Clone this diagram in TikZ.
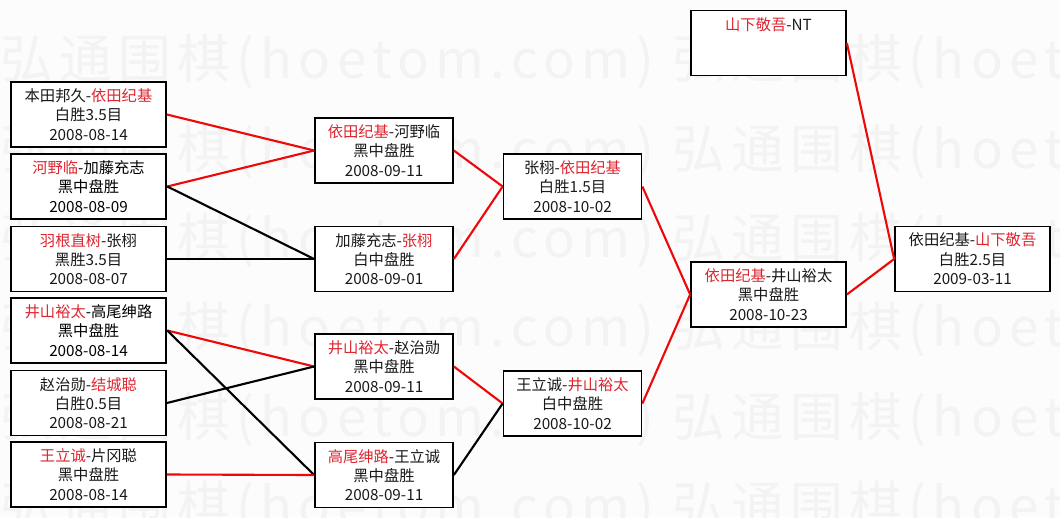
\documentclass[tikz,border=0pt]{standalone}
\usepackage{fontspec}
\setmainfont{Noto Sans CJK SC}
\newfontfamily\wmfont[LetterSpace=12]{Noto Sans CJK SC}
\usepackage{xcolor}
\usetikzlibrary{positioning}
\definecolor{namered}{RGB}{222,38,48}
\definecolor{linkred}{RGB}{238,8,8}
\definecolor{markgray}{RGB}{243,243,243}
\definecolor{pagegray}{RGB}{252,252,252}
\newcommand{\rn}[1]{\textcolor{namered}{#1}}

\begin{document}
\begin{tikzpicture}[x=0.02cm, y=-0.02cm,
game/.style={draw, fill=white, line width=1pt, minimum width=3.1cm, minimum height=1.3cm, inner sep=0pt, align=center, font=\fontsize{8.7}{11}\selectfont, text=black!90},
midgame/.style={game, minimum width=2.76cm},
keygame/.style={game, line width=1.5pt, text=black},
redlink/.style={draw=linkred, line width=1.2pt},
blacklink/.style={draw=black, line width=1.2pt},
wmark/.style={text=markgray, font=\wmfont\fontsize{30}{32}\selectfont, inner sep=0pt, anchor=west}
]
\fill[pagegray] (0,0) rectangle (1060,517);
\useasboundingbox (0,0) rectangle (1060,517);

% Filigrane
\foreach \wy in {62,152,241,330,420,509}{
  \node[wmark] (wm\wy) at (0,\wy) {弘通围棋(hoetom.com) 弘通围棋(hoetom.com)};
}

% Premier tour
\node[game] (r1a) at (88.5,114.5) {本田邦久-\rn{依田纪基}\\白胜3.5目\\2008-08-14};
\node[keygame] (r1b) at (88.5,186.5) {\rn{河野临}-加藤充志\\黑中盘胜\\2008-08-09};
\node[game] (r1c) at (88.5,259) {\rn{羽根直树}-张栩\\黑胜3.5目\\2008-08-07};
\node[keygame] (r1d) at (88.5,330.5) {\rn{井山裕太}-高尾绅路\\黑中盘胜\\2008-08-14};
\node[game] (r1e) at (88.5,403) {赵治勋-\rn{结城聪}\\白胜0.5目\\2008-08-21};
\node[game] (r1f) at (88.5,474.5) {\rn{王立诚}-片冈聪\\黑中盘胜\\2008-08-14};

% Deuxieme tour
\node[midgame] (r2a) at (384,150.5) {\rn{依田纪基}-河野临\\黑中盘胜\\2008-09-11};
\node[midgame] (r2b) at (384,259) {加藤充志-\rn{张栩}\\白中盘胜\\2008-09-01};
\node[midgame] (r2c) at (384,366.5) {\rn{井山裕太}-赵治勋\\黑中盘胜\\2008-09-11};
\node[midgame] (r2d) at (384,475) {\rn{高尾绅路}-王立诚\\黑中盘胜\\2008-09-11};

% Demi-finales
\node[midgame] (r3a) at (572.5,186.5) {张栩-\rn{依田纪基}\\白胜1.5目\\2008-10-02};
\node[midgame] (r3b) at (572.5,403.5) {王立诚-\rn{井山裕太}\\白中盘胜\\2008-10-02};

% Finale
\node[game] (r4) at (768.5,294.5) {\rn{依田纪基}-井山裕太\\黑中盘胜\\2008-10-23};
\node[game] (nt) at (768.5,43) {\rn{山下敬吾}-NT\\~\\~};
\node[game] (fin) at (972.5,259) {依田纪基-\rn{山下敬吾}\\白胜2.5目\\2009-03-11};

% Connexions
\draw[redlink] (r1a.east)--(r2a.west);
\draw[redlink] (r1b.east)--(r2a.west);
\draw[blacklink] (r1b.east)--(r2b.west);
\draw[blacklink] (r1c.east)--(r2b.west);
\draw[redlink] (r1d.east)--(r2c.west);
\draw[blacklink] (r1d.east)--(r2d.west);
\draw[blacklink] (r1e.east)--(r2c.west);
\draw[redlink] (r1f.east)--(r2d.west);

\draw[redlink] (r2a.east)--(r3a.west);
\draw[redlink] (r2b.east)--(r3a.west);
\draw[redlink] (r2c.east)--(r3b.west);
\draw[blacklink] (r2d.east)--(r3b.west);

\draw[redlink] (r3a.east)--(r4.west);
\draw[redlink] (r3b.east)--(r4.west);

\draw[redlink] (r4.east)--(fin.west);
\draw[redlink] (nt.east)--(fin.west);

\end{tikzpicture}
\end{document}
